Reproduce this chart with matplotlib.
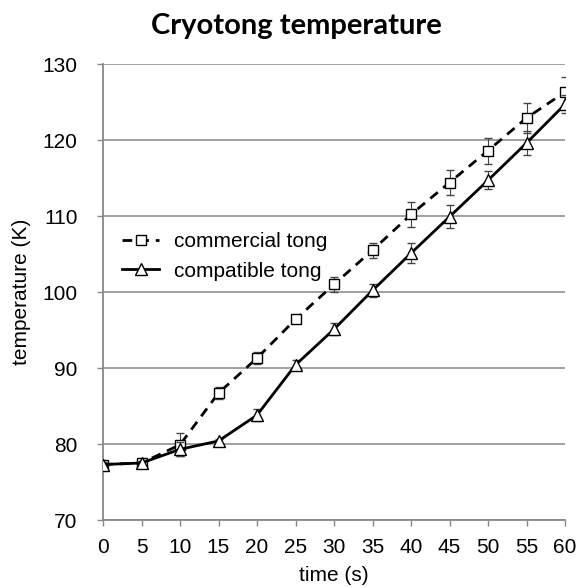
import matplotlib
matplotlib.use('Agg')
import matplotlib.pyplot as plt
from matplotlib.lines import Line2D

plt.rcParams['font.family'] = ['Liberation Sans', 'DejaVu Sans']

time_s = [0, 5, 10, 15, 20, 25, 30, 35, 40, 45, 50, 55, 60]
commercial = [77.3, 77.5, 79.9, 86.7, 91.3, 96.4, 101.0, 105.5, 110.2, 114.4, 118.6, 122.9, 126.3]
commercial_err = [0.3, 0.3, 1.5, 0.8, 0.8, 0.5, 1.0, 1.0, 1.6, 1.6, 1.7, 2.0, 2.0]
compatible = [77.3, 77.5, 79.3, 80.4, 83.8, 90.4, 95.1, 100.2, 105.1, 109.9, 114.7, 119.6, 124.7]
compatible_err = [0.3, 0.3, 0.9, 0.3, 0.8, 0.6, 0.8, 0.8, 1.3, 1.5, 1.2, 1.6, 1.2]

fs = 15
dash = (0, (3.5, 2.5))

fig = plt.figure(figsize=(5.78, 5.87), dpi=100)
ax = fig.add_axes([103/578, 1 - 520/587, 462/578, 456/587])

ax.errorbar(time_s, commercial, yerr=commercial_err, color='black', ls=dash, lw=2,
            marker='s', ms=7, mfc='white', mec='black', mew=1,
            ecolor='#444444', elinewidth=0.8, capsize=3, capthick=0.8, zorder=3)
ax.errorbar(time_s, compatible, yerr=compatible_err, color='black', ls='-', lw=2,
            marker='^', ms=8, mfc='white', mec='black', mew=1,
            ecolor='#444444', elinewidth=0.8, capsize=3, capthick=0.8, zorder=4)

ax.set_xlim(0, 60)
ax.set_ylim(70, 130)
ax.set_xticks(time_s)
ax.set_yticks(range(70, 131, 10))
ax.yaxis.grid(True, color='#999999', lw=1.3)
ax.set_axisbelow(True)
for s in ['top', 'right']:
    ax.spines[s].set_visible(False)
for s in ['left', 'bottom']:
    ax.spines[s].set_color('#888888')
    ax.spines[s].set_linewidth(1.3)
ax.tick_params(colors='#888888', labelcolor='black', labelsize=fs, length=4.3, width=1)
ax.tick_params(axis='x', pad=8.5)
ax.tick_params(axis='y', pad=14)
ax.set_xlabel('time (s)', fontsize=fs, labelpad=6.5)
ax.set_ylabel('temperature (K)', fontsize=fs, labelpad=8)
fig.text(296/578, 1 - 26/587, 'Cryotong temperature', fontsize=21, fontweight='bold',
         family=['Lato', 'DejaVu Sans'], ha='center', va='center')

handles = [Line2D([], [], color='black', ls=dash, lw=2, marker='s', ms=7,
                  mfc='white', mec='black', mew=1),
           Line2D([], [], color='black', ls='-', lw=2, marker='^', ms=8,
                  mfc='white', mec='black', mew=1)]
ax.legend(handles, ['commercial tong', 'compatible tong'], loc='upper left',
          bbox_to_anchor=(0.0, 0.672), frameon=False, fontsize=fs,
          handlelength=1.8, handletextpad=0.7, labelspacing=0.5)

fig.savefig('out.png', dpi=100)
